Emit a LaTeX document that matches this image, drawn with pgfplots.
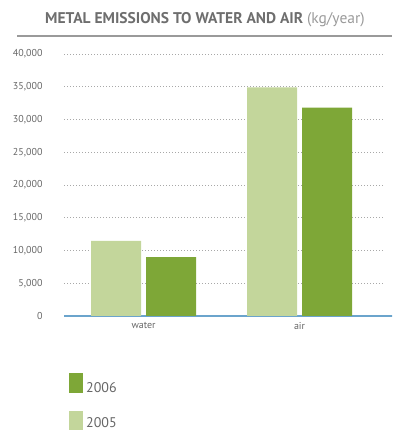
\documentclass[border=0pt]{standalone}
\usepackage{fontspec}
\setmainfont{PT Sans}
\usepackage{pgfplots}
\pgfplotsset{compat=1.18}

\definecolor{lightgreen}{HTML}{C3D69B}
\definecolor{darkgreen}{HTML}{7EA737}
\definecolor{axisblue}{HTML}{6BA4CC}
\definecolor{txtgray}{HTML}{666666}
\definecolor{titlegray}{HTML}{6E6E6E}
\definecolor{unitgray}{HTML}{9A9A9A}
\definecolor{gridgray}{HTML}{A8A8A8}

\begin{document}
\begin{tikzpicture}[x=1pt,y=1pt]
\path[use as bounding box, clip] (0,0) rectangle (392,430);

% title and rule
\node[anchor=base west, inner sep=0] at (45,406.7)
  {\fontsize{15.5}{15.5}\selectfont\bfseries\color{titlegray}METAL EMISSIONS TO WATER AND AIR
   \color{unitgray}\mdseries(kg/year)};
\draw[unitgray, line width=1.3pt] (17,394) -- (392,394);

\begin{axis}[
  at={(64pt,114pt)}, anchor=south west,
  scale only axis, width=319pt, height=262pt,
  ybar=5pt, bar width=50pt,
  xmin=-0.51, xmax=1.535,
  ymin=0, ymax=40000,
  xtick={0,1}, xticklabels={water,air},
  ytick={0,5000,...,40000},
  major tick length=0pt,
  axis x line*=bottom,
  axis y line*=left,
  y axis line style={draw=none},
  x axis line style={-, axisblue, line width=1.2pt, shorten >=-10pt},
  ymajorgrids, grid style={gridgray, line width=0.5pt, dash pattern=on 0.6pt off 2.4pt},
  scaled y ticks=false,
  /pgf/number format/assume math mode=true,
  /pgf/number format/1000 sep={,},
  yticklabel style={font=\fontsize{10}{10}\selectfont, text=txtgray, xshift=-18pt},
  xticklabel style={font=\fontsize{10}{10}\selectfont, text=txtgray, yshift=-3pt},
  clip=false,
]
\addplot[fill=lightgreen, draw=none] coordinates {(0,11450) (1,34900)};
\addplot[fill=darkgreen, draw=none] coordinates {(0,9000) (1,31800)};
\end{axis}

% legend
\fill[darkgreen] (69,37) rectangle (83,57);
\node[anchor=base west, inner sep=0, text=txtgray] at (86,37.3) {\fontsize{14}{14}\selectfont 2006};
\fill[lightgreen] (69,-5) rectangle (83,19);
\node[anchor=base west, inner sep=0, text=txtgray] at (86,2) {\fontsize{14}{14}\selectfont 2005};
\end{tikzpicture}
\end{document}
